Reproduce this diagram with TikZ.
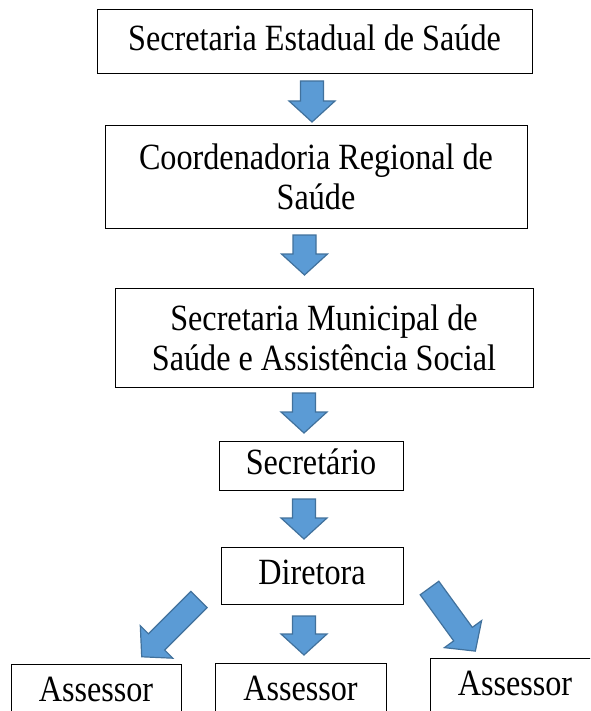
\documentclass[tikz,border=0pt]{standalone}
\usepackage{fontspec}
\setmainfont{Liberation Serif}[FakeStretch=0.87]
\definecolor{arrowblue}{HTML}{5B9BD5}
\definecolor{arrowedge}{HTML}{41719C}
\tikzset{
	box/.style={draw=black, line width=1pt, inner sep=0pt, align=center, font=\fontsize{37}{40}\selectfont},
	onebox/.style={box, text height=25pt, text depth=7pt},
	blkarrow/.pic={
		\filldraw[fill=arrowblue, draw=arrowedge, line width=1.2pt, line join=miter]
			(-11.5,0) -- (11.5,0) -- (11.5,#1-21) -- (23,#1-21) -- (0,#1) -- (-23,#1-21) -- (-11.5,#1-21) -- cycle;
	}
}
\begin{document}
\begin{tikzpicture}[x=1pt, y=-1pt]
	\useasboundingbox (0,0) rectangle (590,711);
	\clip (0,0) rectangle (590,711);

	\node[onebox, minimum width=435pt, minimum height=64pt] (sed) at (314.5,42) {Secretaria Estadual de Saúde};
		\pic at (312,81) {blkarrow=41};
	\node[box, minimum width=422pt, minimum height=102pt] (crs) at (316,177) {Coordenadoria Regional de\\Saúde};
		\pic at (304.5,235) {blkarrow=40};
	\node[box, minimum width=418pt, minimum height=99pt] (smsas) at (324,337.5) {Secretaria Municipal de\\Saúde e Assistência Social};
		\pic at (304,393) {blkarrow=40};
	\node[onebox, minimum width=184pt, minimum height=49pt] (secretario) at (311,465.5) {Secretário};
		\pic at (304,499) {blkarrow=40};
	\node[onebox, minimum width=182pt, minimum height=57pt] (diretora) at (312,575.5) {Diretora};

	% assessores
		\pic[rotate=-45] at (199,599.5) {blkarrow=81};
		\pic at (304,616) {blkarrow=39};
		\pic[rotate=36] at (429.5,588) {blkarrow=78};
	\node[onebox, minimum width=170pt, minimum height=57pt] (assessorA) at (96,692.5) {Assessor};
	\node[onebox, minimum width=171pt, minimum height=57pt] (assessorB) at (300.5,691.5) {Assessor};
	\node[onebox, minimum width=170pt, minimum height=57pt] (assessorC) at (515,686.5) {Assessor};

\end{tikzpicture}
\end{document}
